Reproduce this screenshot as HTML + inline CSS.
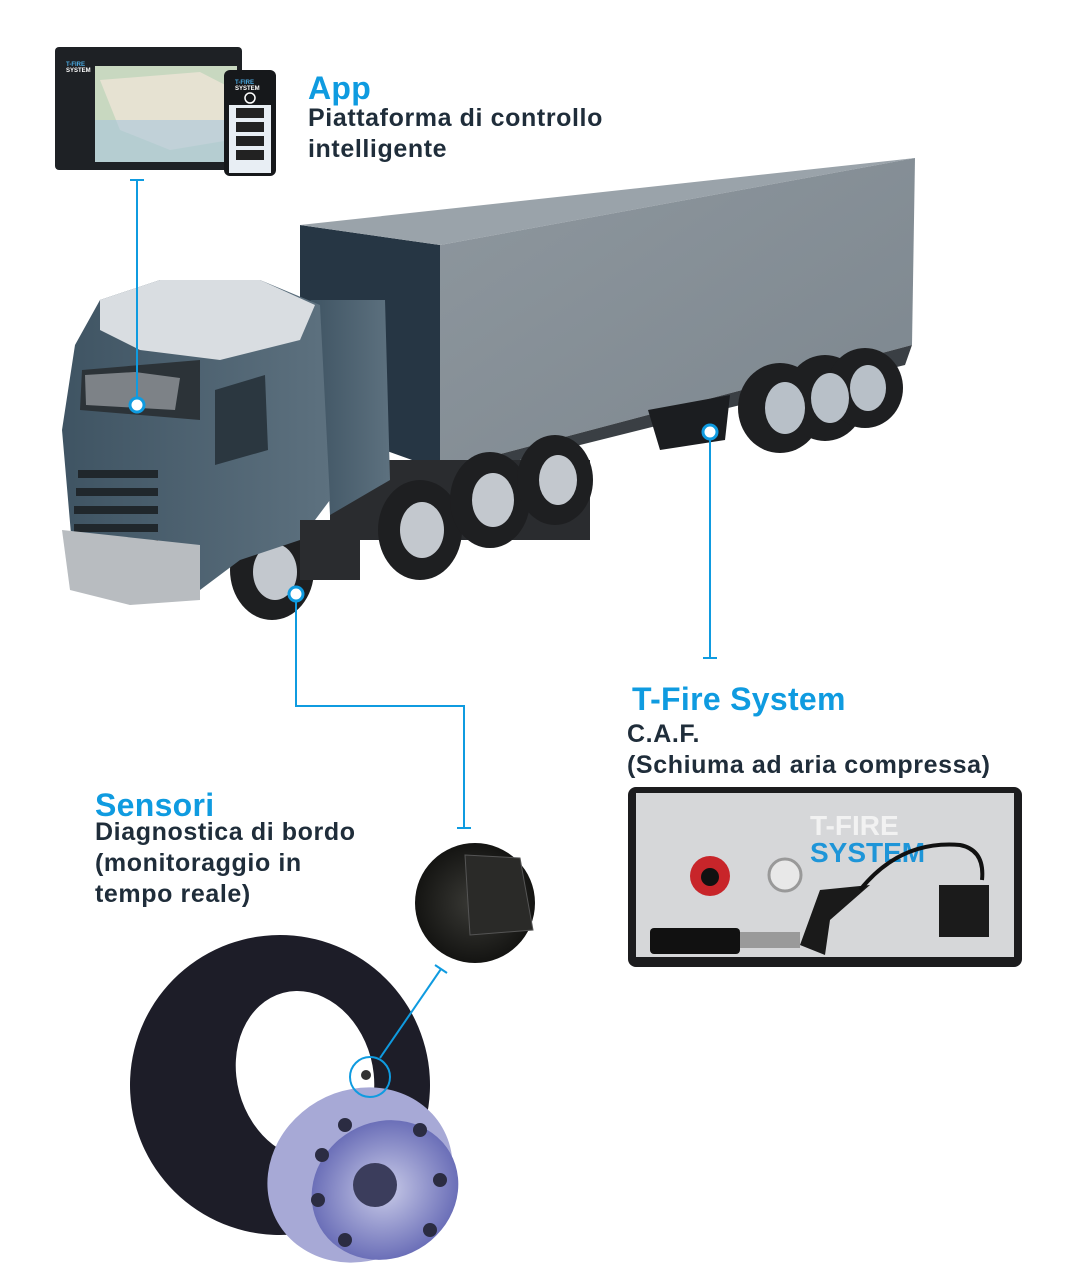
<!DOCTYPE html>
<html><head><meta charset="utf-8"><style>
html,body{margin:0;padding:0;background:#fff;}
body{width:1073px;height:1285px;position:relative;overflow:hidden;font-family:"Liberation Sans",sans-serif;}
.t{position:absolute;font-weight:bold;color:#1f2d3a;font-size:25px;line-height:31px;white-space:nowrap;letter-spacing:0.6px}
.b{color:#0f9be0;font-size:32px;line-height:32px;letter-spacing:0.3px}
</style></head><body>
<svg width="1073" height="1285" style="position:absolute;left:0;top:0">
<defs>
<linearGradient id="tr" x1="0" y1="0" x2="1" y2="1"><stop offset="0" stop-color="#8e979e"/><stop offset="1" stop-color="#7c868e"/></linearGradient>
<linearGradient id="cab" x1="0" y1="0" x2="1" y2="0"><stop offset="0" stop-color="#3f5463"/><stop offset="1" stop-color="#5d717f"/></linearGradient>
<radialGradient id="rim" cx="0.5" cy="0.5" r="0.5"><stop offset="0" stop-color="#c9cbe8"/><stop offset="1" stop-color="#6b6fb8"/></radialGradient>
<radialGradient id="sen" cx="0.5" cy="0.5" r="0.5"><stop offset="0" stop-color="#3a3a36"/><stop offset="1" stop-color="#141412"/></radialGradient>
</defs>
<rect x="55" y="47" width="187" height="123" rx="4" fill="#1e2125"/>
<rect x="95" y="66" width="142" height="96" fill="#c8d8c0"/>
<path d="M100 80 L200 72 L235 90 L230 140 L170 150 L120 130 Z" fill="#e6e2d2"/>
<rect x="95" y="120" width="142" height="42" fill="#a9c6dc" opacity="0.6"/>
<text x="66" y="66" font-size="6" fill="#4aa9e0" font-family="Liberation Sans" font-weight="bold">T-FIRE</text>
<text x="66" y="72" font-size="6" fill="#fff" font-family="Liberation Sans" font-weight="bold">SYSTEM</text>
<rect x="224" y="70" width="52" height="106" rx="6" fill="#16181b"/>
<rect x="229" y="105" width="42" height="68" fill="#e8eef4"/>
<g fill="#222"><rect x="236" y="108" width="28" height="10"/><rect x="236" y="122" width="28" height="10"/><rect x="236" y="136" width="28" height="10"/><rect x="236" y="150" width="28" height="10"/></g>
<circle cx="250" cy="98" r="5" fill="none" stroke="#fff" stroke-width="1.5"/>
<text x="235" y="84" font-size="6" fill="#4aa9e0" font-family="Liberation Sans" font-weight="bold">T-FIRE</text>
<text x="235" y="90" font-size="6" fill="#fff" font-family="Liberation Sans" font-weight="bold">SYSTEM</text>
<polygon points="300,225 440,245 440,470 300,420" fill="#263644"/>
<polygon points="300,225 915,158 440,245" fill="#9aa3aa"/>
<polygon points="440,245 915,158 912,345 440,470" fill="url(#tr)"/>
<polygon points="440,470 912,345 905,365 720,410 440,480" fill="#3a3f44"/>
<g fill="#1e1f21"><ellipse cx="780" cy="408" rx="42" ry="45"/><ellipse cx="825" cy="398" rx="40" ry="43"/><ellipse cx="865" cy="388" rx="38" ry="40"/></g>
<g fill="#b8c0c8"><ellipse cx="785" cy="408" rx="20" ry="26"/><ellipse cx="830" cy="398" rx="19" ry="25"/><ellipse cx="868" cy="388" rx="18" ry="23"/></g>
<polygon points="648,410 730,395 725,440 660,450" fill="#1b1d20"/>
<rect x="330" y="460" width="260" height="80" fill="#2a2c2f"/>
<g fill="#1e1f21"><ellipse cx="420" cy="530" rx="42" ry="50"/><ellipse cx="490" cy="500" rx="40" ry="48"/><ellipse cx="555" cy="480" rx="38" ry="45"/><ellipse cx="272" cy="570" rx="42" ry="50"/></g>
<g fill="#c3c8ce"><ellipse cx="422" cy="530" rx="22" ry="28"/><ellipse cx="493" cy="500" rx="21" ry="27"/><ellipse cx="558" cy="480" rx="19" ry="25"/><ellipse cx="275" cy="572" rx="22" ry="28"/></g>
<polygon points="310,300 385,300 390,480 330,515 320,310" fill="url(#cab)"/>
<polygon points="75,345 100,300 160,280 260,280 320,305 330,500 300,540 240,560 200,590 130,600 75,580 62,430" fill="url(#cab)"/>
<polygon points="100,300 160,280 260,280 315,305 300,340 220,360 140,350 100,330" fill="#d9dde1"/>
<polygon points="82,370 200,360 200,420 80,410" fill="#2c3338"/>
<polygon points="85,375 135,372 180,378 175,410 86,405" fill="#7d8287"/>
<polygon points="215,390 265,375 268,450 215,465" fill="#2b3740"/>
<g fill="#20272c"><rect x="78" y="470" width="80" height="8"/><rect x="76" y="488" width="82" height="8"/><rect x="74" y="506" width="84" height="8"/><rect x="74" y="524" width="84" height="8"/><rect x="74" y="540" width="84" height="8"/></g>
<polygon points="62,530 200,545 200,600 130,605 70,590" fill="#b8bcc0"/>
<rect x="300" y="520" width="60" height="60" fill="#2a2c2f"/>
<g stroke="#0f9be0" stroke-width="2" fill="none">
<line x1="137" y1="180" x2="137" y2="398"/><line x1="130" y1="180" x2="144" y2="180"/>
<line x1="710" y1="440" x2="710" y2="658"/><line x1="703" y1="658" x2="717" y2="658"/>
<polyline points="296,602 296,706 464,706 464,828"/><line x1="457" y1="828" x2="471" y2="828"/>
</g>
<g stroke="#0f9be0" stroke-width="3" fill="#fff"><circle cx="137" cy="405" r="7"/><circle cx="710" cy="432" r="7"/><circle cx="296" cy="594" r="7"/></g>
<circle cx="475" cy="903" r="60" fill="url(#sen)"/>
<polygon points="465,855 520,858 533,930 470,935" fill="#2a2a28" stroke="#555" stroke-width="1"/>
<ellipse cx="280" cy="1085" rx="150" ry="150" transform="rotate(-20 280 1085)" fill="#1d1d28"/>
<ellipse cx="305" cy="1075" rx="68" ry="85" transform="rotate(-15 305 1075)" fill="#fff"/>
<ellipse cx="360" cy="1175" rx="95" ry="85" transform="rotate(-30 360 1175)" fill="#a7a9d6"/>
<ellipse cx="385" cy="1190" rx="75" ry="68" transform="rotate(-30 385 1190)" fill="url(#rim)"/>
<ellipse cx="375" cy="1185" rx="22" ry="22" fill="#3b3d5c"/>
<g fill="#2b2c42"><circle cx="345" cy="1125" r="7"/><circle cx="420" cy="1130" r="7"/><circle cx="440" cy="1180" r="7"/><circle cx="430" cy="1230" r="7"/><circle cx="345" cy="1240" r="7"/><circle cx="318" cy="1200" r="7"/><circle cx="322" cy="1155" r="7"/></g>
<circle cx="366" cy="1075" r="5" fill="#333"/>
<g stroke="#0f9be0" stroke-width="2" fill="none">
<line x1="441" y1="969" x2="380" y2="1058"/><line x1="435" y1="965" x2="447" y2="973"/>
<circle cx="370" cy="1077" r="20"/></g>
<rect x="628" y="787" width="394" height="180" rx="8" fill="#1c1c1e"/>
<rect x="636" y="793" width="378" height="164" fill="#d6d7d9"/>
<text x="810" y="835" font-size="28" font-weight="bold" fill="#f2f2f2" font-family="Liberation Sans">T-FIRE</text>
<text x="810" y="862" font-size="28" font-weight="bold" fill="#1e95d8" font-family="Liberation Sans">SYSTEM</text>
<circle cx="710" cy="876" r="20" fill="#c8252a"/><circle cx="710" cy="877" r="9" fill="#111"/>
<circle cx="785" cy="875" r="16" fill="#e8e8e8" stroke="#999" stroke-width="3"/>
<rect x="650" y="928" width="90" height="26" rx="4" fill="#111"/>
<rect x="740" y="932" width="60" height="16" fill="#9a9a9a"/>
<path d="M800 945 L820 890 L870 885 L830 920 L825 955 Z" fill="#1a1a1a"/>
<path d="M860 890 Q900 840 960 845 Q985 850 982 880" stroke="#111" stroke-width="4" fill="none"/>
<rect x="939" y="885" width="50" height="52" fill="#1b1b1b"/>
</svg>
<div class="t b" style="left:308px;top:72px">App</div>
<div class="t" style="left:308px;top:103px">Piattaforma di controllo<br>intelligente</div>
<div class="t b" style="left:632px;top:683px">T-Fire System</div>
<div class="t" style="left:627px;top:719px">C.A.F.<br>(Schiuma ad aria compressa)</div>
<div class="t b" style="left:95px;top:789px">Sensori</div>
<div class="t" style="left:95px;top:817px">Diagnostica di bordo<br>(monitoraggio in<br>tempo reale)</div>
</body></html>
